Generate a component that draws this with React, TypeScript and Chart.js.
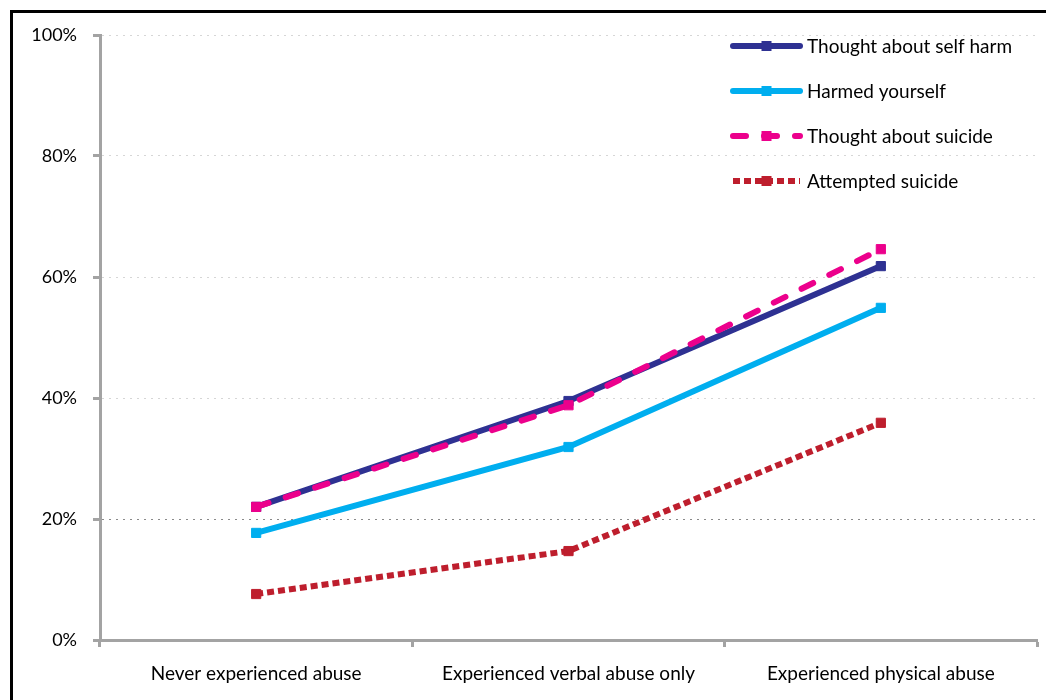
import React, { useEffect, useRef } from "react";
import { Chart, registerables } from "chart.js";

Chart.register(...registerables);

const categories = [
  "Never experienced abuse",
  "Experienced verbal abuse only",
  "Experienced physical abuse",
];
const seriesNames = [
  "Thought about self harm",
  "Harmed yourself",
  "Thought about suicide",
  "Attempted suicide",
];
const thoughtSelfHarm = [22.0, 39.5, 61.8];
const harmedYourself = [17.7, 31.9, 54.9];
const thoughtSuicide = [22.0, 38.8, 64.6];
const attemptedSuicide = [7.6, 14.7, 35.9];
const yTickValues = [0, 20, 40, 60, 80, 100];

const FONT = "Lato, 'Open Sans', sans-serif";
const AXIS_GRAY = "#a3a3a3";

const framePlugin = {
  id: "frame",
  beforeDraw(chart: any) {
    const { ctx, width, height } = chart;
    ctx.save();
    ctx.fillStyle = "#ffffff";
    ctx.fillRect(0, 0, width, height);
    ctx.fillStyle = "#000000";
    ctx.fillRect(10, 10, width - 10, 3);
    ctx.fillRect(10, 10, 3, height - 10);
    ctx.restore();
  },
};

const legendPlugin = {
  id: "customLegend",
  afterDraw(chart: any) {
    const { ctx, chartArea } = chart;
    const x0 = 733;
    const x1 = 800;
    const xm = (x0 + x1) / 2;
    const yStart = chartArea.top + 11;
    const step = 45;
    ctx.save();
    chart.data.datasets.forEach((ds: any, i: number) => {
      const y = yStart + i * step;
      ctx.beginPath();
      ctx.setLineDash(ds.legendDash || []);
      ctx.lineCap = ds.borderCapStyle || "round";
      ctx.lineWidth = ds.borderWidth;
      ctx.strokeStyle = ds.borderColor;
      ctx.moveTo(x0, y);
      ctx.lineTo(x1, y);
      ctx.stroke();
      ctx.setLineDash([]);
      ctx.fillStyle = ds.borderColor;
      ctx.fillRect(xm - 5, y - 5, 10, 10);
      ctx.fillStyle = "#000";
      ctx.font = `19px ${FONT}`;
      ctx.textAlign = "left";
      ctx.textBaseline = "middle";
      ctx.fillText(ds.label, 807, y + 1);
    });
    ctx.restore();
  },
};

export default function App() {
  const ref = useRef<HTMLCanvasElement | null>(null);

  useEffect(() => {
    if (!ref.current) return;
    const mk = (
      label: string,
      data: number[],
      color: string,
      width: number,
      dash: number[],
      cap: string,
      order: number,
      legendDash: number[]
    ) => ({
      label,
      data,
      borderColor: color,
      backgroundColor: color,
      borderWidth: width,
      borderDash: dash,
      borderCapStyle: cap,
      legendDash,
      pointStyle: "rect",
      pointRadius: 6.5,
      pointBorderWidth: 1,
      pointBorderColor: color,
      pointBackgroundColor: color,
      tension: 0,
      fill: false,
      order,
    });

    const chart = new Chart(ref.current, {
      type: "line",
      data: {
        labels: categories,
        datasets: [
          mk(seriesNames[0], thoughtSelfHarm, "#2e3192", 6, [], "round", 2, []),
          mk(seriesNames[1], harmedYourself, "#00aeef", 6, [], "round", 3, []),
          mk(seriesNames[2], thoughtSuicide, "#ec008c", 6, [13, 18], "round", 1, [13, 18]),
          mk(seriesNames[3], attemptedSuicide, "#be1e2d", 6, [7, 4], "butt", 0, [7, 4]),
        ] as any,
      },
      options: {
        responsive: false,
        animation: false,
        layout: { padding: { top: 35, right: 9, left: 0, bottom: 0 } },
        plugins: {
          legend: { display: false },
          tooltip: { enabled: false },
          title: { display: false },
        },
        scales: {
          x: {
            type: "category",
            offset: true,
            grid: {
              offset: true,
              drawOnChartArea: false,
              drawTicks: true,
              tickLength: 7,
              tickColor: AXIS_GRAY,
              tickWidth: 3,
            },
            border: { color: AXIS_GRAY, width: 3 },
            ticks: {
              color: "#000",
              font: { family: FONT, size: 19 },
              padding: 15,
              maxRotation: 0,
              autoSkip: false,
            },
            afterFit(s: any) {
              s.height = 60;
            },
          },
          y: {
            min: 0,
            max: 100,
            afterBuildTicks(s: any) {
              s.ticks = yTickValues.map((v) => ({ value: v }));
            },
            ticks: {
              color: "#000",
              font: { family: FONT, size: 18 },
              padding: 16,
              callback: (v: any) => `${v}%`,
            },
            grid: {
              color: (c: any) => (c.tick && c.tick.value === 20 ? "#8a8a8a" : "#d6d6d6"),
              lineWidth: 1,
              tickColor: AXIS_GRAY,
              tickWidth: 3,
              tickLength: 7,
              tickBorderDash: [],
            },
            border: { color: AXIS_GRAY, width: 3, dash: [2, 5] },
            afterFit(s: any) {
              s.width = 100;
            },
          },
        },
      } as any,
      plugins: [framePlugin, legendPlugin],
    });
    return () => chart.destroy();
  }, []);

  return (
    <div style={{ position: "absolute", left: 0, top: 0, width: 1046, height: 700 }}>
      <canvas ref={ref} width={1046} height={700} style={{ display: "block" }} />
    </div>
  );
}
